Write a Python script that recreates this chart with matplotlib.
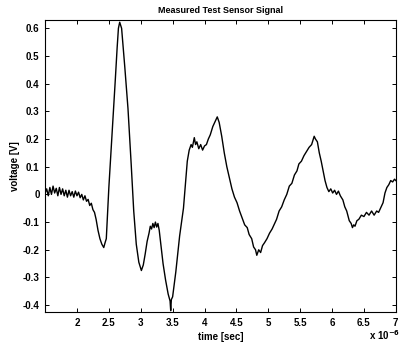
import numpy as np
import matplotlib.pyplot as plt

# time in units of 1e-6 s, voltage in V
time_us = [
    1.500, 1.525, 1.550, 1.575, 1.600, 1.625, 1.650, 1.675, 1.700, 1.725,
    1.750, 1.775, 1.800, 1.825, 1.850, 1.875, 1.900, 1.925, 1.950, 1.975,
    2.000, 2.025, 2.050, 2.075, 2.100, 2.125, 2.150, 2.175, 2.200, 2.225,
    2.250, 2.275, 2.300, 2.330, 2.360, 2.390, 2.420, 2.440, 2.460,
    2.500, 2.550, 2.600, 2.630, 2.650, 2.670, 2.700, 2.750, 2.800, 2.850,
    2.890, 2.930, 2.970, 3.010, 3.040, 3.070, 3.100, 3.130, 3.150, 3.170,
    3.190, 3.210, 3.230, 3.250, 3.270, 3.290, 3.320, 3.350, 3.390, 3.430,
    3.460, 3.470, 3.480, 3.500, 3.550, 3.610, 3.670, 3.730, 3.760, 3.790,
    3.810, 3.840, 3.860, 3.880, 3.910, 3.940, 3.970, 4.000, 4.030, 4.060,
    4.090, 4.130, 4.160, 4.200, 4.230, 4.270, 4.310, 4.350, 4.390, 4.430,
    4.470, 4.510, 4.550, 4.590, 4.630, 4.670, 4.700, 4.740, 4.770, 4.800,
    4.820, 4.850, 4.880, 4.910, 4.940, 4.980, 5.020, 5.060, 5.090, 5.130,
    5.170, 5.210, 5.250, 5.290, 5.330, 5.370, 5.410, 5.450, 5.480, 5.520,
    5.560, 5.600, 5.640, 5.680, 5.700, 5.720, 5.740, 5.770, 5.800, 5.830,
    5.860, 5.890, 5.920, 5.950, 5.980, 6.010, 6.040, 6.070, 6.100, 6.130,
    6.170, 6.200, 6.230, 6.270, 6.300, 6.320, 6.340, 6.360, 6.390, 6.420,
    6.460, 6.500, 6.540, 6.580, 6.620, 6.660, 6.700, 6.730, 6.770, 6.800,
    6.830, 6.860, 6.890, 6.920, 6.950, 6.980, 7.000,
]
voltage = [
    0.005, 0.020, -0.005, 0.025, 0.000, 0.030, 0.005, 0.022, -0.005, 0.025,
    0.000, 0.020, -0.005, 0.015, -0.010, 0.015, -0.005, 0.010, -0.010, 0.012,
    -0.005, 0.008, -0.012, 0.000, -0.020, -0.005, -0.025, -0.018, -0.040, -0.032,
    -0.055, -0.065, -0.090, -0.130, -0.160, -0.180, -0.192, -0.175, -0.160,
    0.025, 0.215, 0.410, 0.530, 0.600, 0.622, 0.600, 0.460, 0.310, 0.110,
    -0.060, -0.180, -0.245, -0.275, -0.255, -0.215, -0.170, -0.140, -0.115, -0.125,
    -0.105, -0.120, -0.100, -0.118, -0.105, -0.130, -0.190, -0.250, -0.310, -0.360,
    -0.385, -0.420, -0.380, -0.370, -0.280, -0.150, -0.050, 0.120, 0.160, 0.180,
    0.170, 0.205, 0.180, 0.190, 0.165, 0.180, 0.160, 0.175, 0.180, 0.200,
    0.215, 0.245, 0.260, 0.280, 0.260, 0.210, 0.150, 0.100, 0.060, 0.020,
    -0.010, -0.030, -0.060, -0.085, -0.110, -0.120, -0.145, -0.160, -0.190, -0.200,
    -0.220, -0.200, -0.210, -0.185, -0.175, -0.160, -0.140, -0.125, -0.110, -0.090,
    -0.060, -0.045, -0.020, 0.000, 0.030, 0.040, 0.070, 0.085, 0.110, 0.120,
    0.140, 0.155, 0.170, 0.180, 0.195, 0.210, 0.200, 0.190, 0.150, 0.120,
    0.085, 0.050, 0.025, 0.010, 0.020, 0.005, 0.015, 0.000, 0.012, -0.005,
    -0.020, -0.045, -0.060, -0.095, -0.105, -0.120, -0.110, -0.115, -0.095, -0.090,
    -0.075, -0.080, -0.065, -0.075, -0.060, -0.075, -0.060, -0.065, -0.045, -0.030,
    0.005, 0.025, 0.035, 0.050, 0.045, 0.055, 0.050,
]

xticks = [2, 2.5, 3, 3.5, 4, 4.5, 5, 5.5, 6, 6.5, 7]
xtick_labels = ["2", "2.5", "3", "3.5", "4", "4.5", "5", "5.5", "6", "6.5", "7"]
yticks = [-0.4, -0.3, -0.2, -0.1, 0, 0.1, 0.2, 0.3, 0.4, 0.5, 0.6]
ytick_labels = ["-0.4", "-0.3", "-0.2", "-0.1", "0", "0.1", "0.2", "0.3", "0.4", "0.5", "0.6"]

plt.rcParams['font.family'] = ['Liberation Sans', 'DejaVu Sans']
plt.rcParams['font.weight'] = 'bold'

fig = plt.figure(figsize=(3.99, 3.51), dpi=100)
ax = fig.add_axes([0.113, 0.111, 0.879, 0.832])

ax.plot(time_us, voltage, color="black", linewidth=1.0)

ax.set_xlim(1.5, 7.0)
ax.set_ylim(-0.425, 0.63)
ax.set_xticks(xticks)
ax.set_xticklabels(xtick_labels)
ax.set_yticks(yticks)
ax.set_yticklabels(ytick_labels)
ax.tick_params(direction="in", top=True, right=True, length=3, width=0.7,
               labelsize=7, pad=4)
for s in ax.spines.values():
    s.set_linewidth(0.8)

ax.set_title("Measured Test Sensor Signal", fontsize=6.5, fontweight="bold", pad=5)
ax.set_xlabel("time [sec]", fontsize=7, fontweight="bold", labelpad=3)
ax.set_ylabel("voltage [V]", fontsize=7, fontweight="bold", labelpad=2)
fig.text(0.925, 0.03, r"x 10$^{-6}$", fontsize=7, fontweight="bold")

fig.savefig("out.png", dpi=100)
